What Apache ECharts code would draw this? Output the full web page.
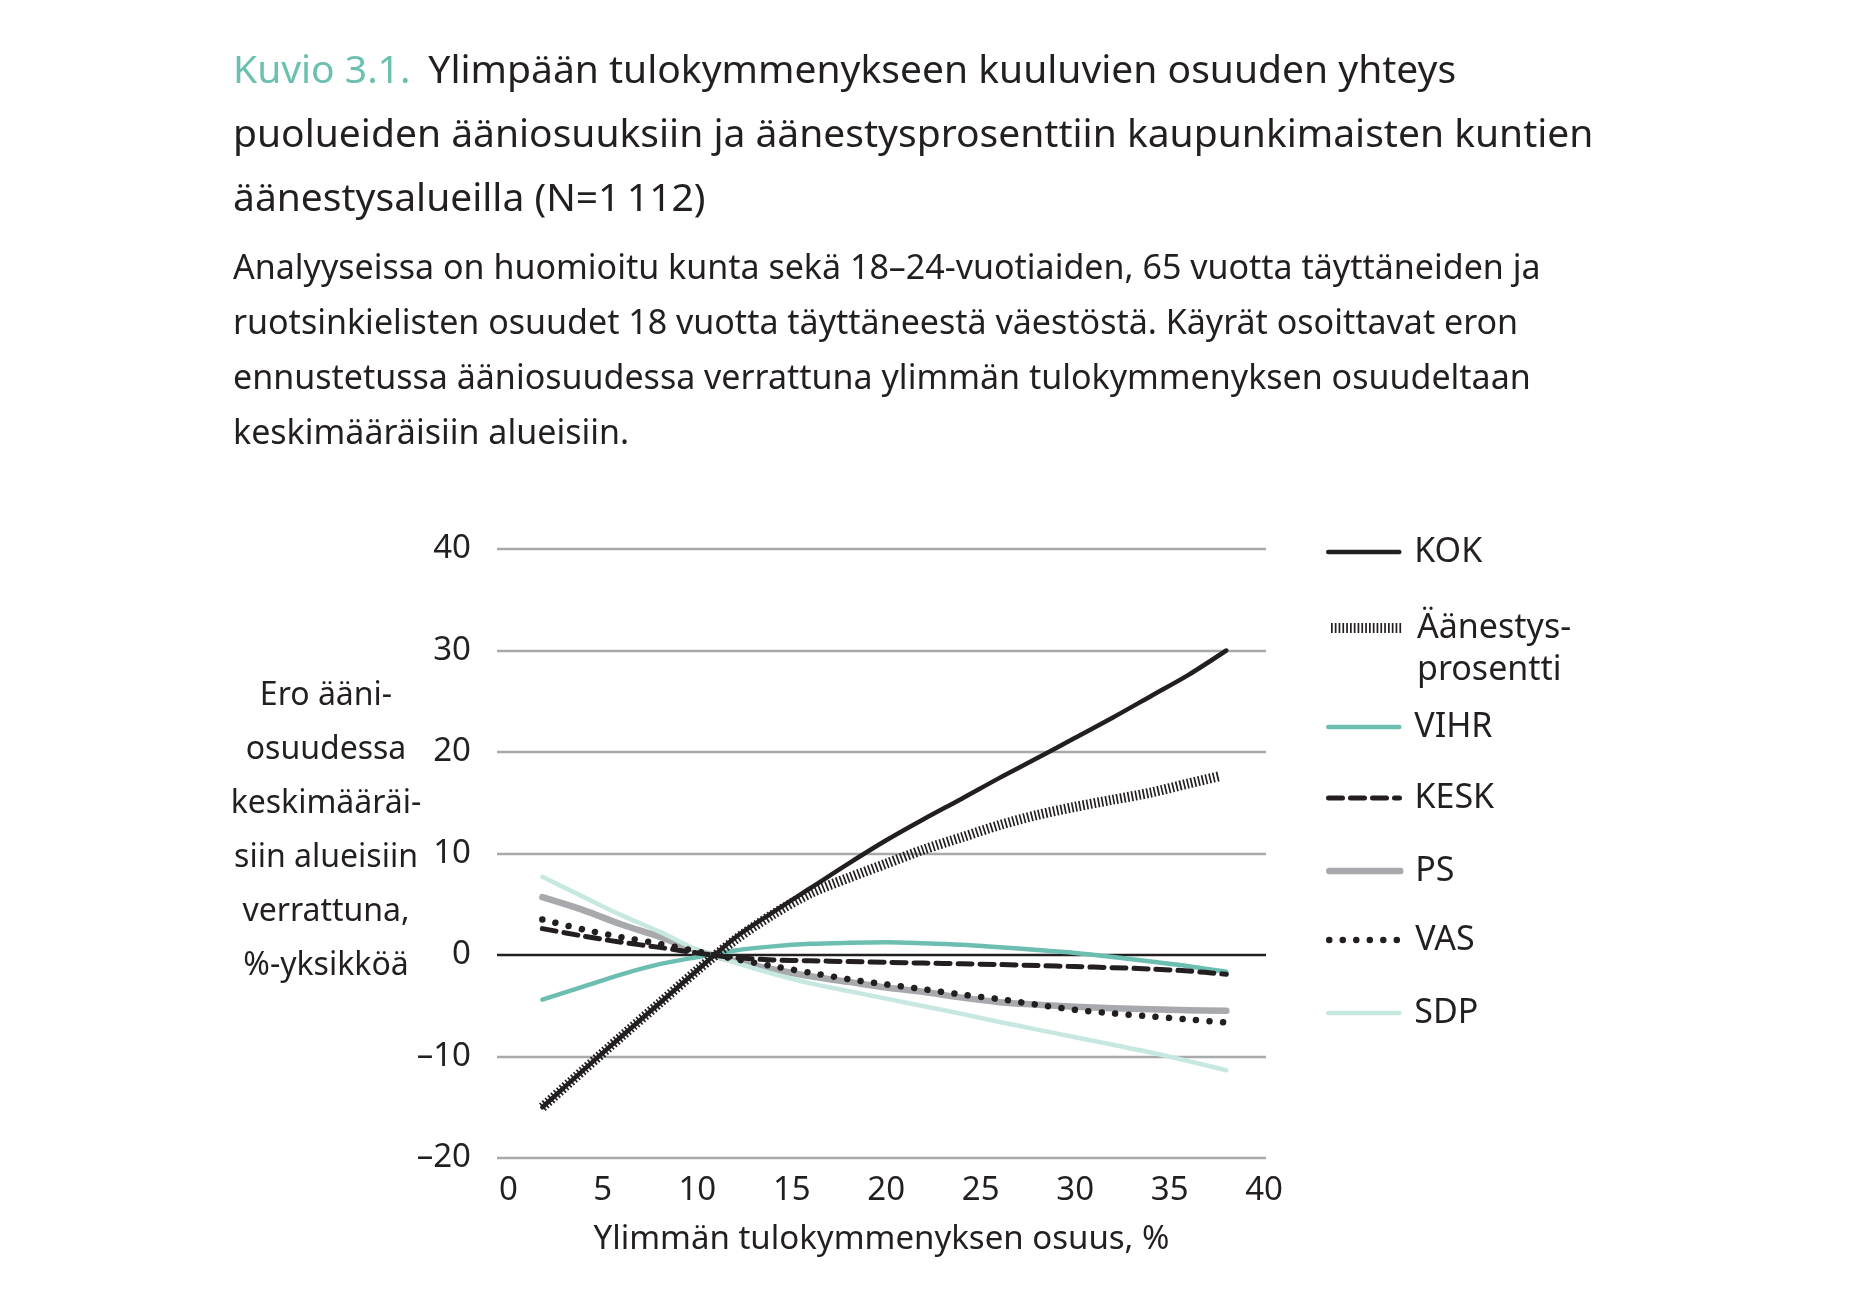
<!DOCTYPE html>
<html>
<head>
<meta charset="utf-8">
<script src="https://cdn.jsdelivr.net/npm/echarts@6/dist/echarts.min.js"></script>
<style>
html,body{margin:0;padding:0;background:#fff;}
#c{width:1856px;height:1310px;}
</style>
</head>
<body>
<div id="c"></div>
<script>
// ---- data ----
const xValues = [1.8, 4, 6, 8, 10, 12, 14, 16, 18, 20, 22, 24, 26, 28, 30, 32, 34, 36, 38];
const turnoutX = [1.8, 4, 6, 8, 10, 12, 14, 16, 18, 20, 22, 24, 26, 28, 30, 32, 34, 36, 37.6];
const KOK     = [-15.0, -11.3, -8.0, -4.75, -1.5, 1.7, 4.2, 6.6, 9.0, 11.3, 13.4, 15.4, 17.45, 19.4, 21.4, 23.4, 25.5, 27.6, 30.0];
const TURNOUT = [-15.0, -11.3, -8.0, -4.75, -1.5, 1.5, 4.0, 6.1, 7.6, 9.0, 10.4, 11.6, 12.8, 13.8, 14.6, 15.3, 16.0, 16.9, 17.6];
const VIHR    = [-4.4, -3.1, -1.9, -0.9, -0.2, 0.45, 0.85, 1.1, 1.2, 1.25, 1.15, 1.0, 0.76, 0.5, 0.2, -0.2, -0.65, -1.1, -1.65];
const KESK    = [2.6, 1.85, 1.25, 0.75, 0.2, -0.25, -0.49, -0.57, -0.65, -0.72, -0.8, -0.87, -0.94, -1.04, -1.14, -1.25, -1.38, -1.58, -1.9];
const PS      = [5.7, 4.4, 3.0, 1.8, 0.4, -0.6, -1.4, -2.1, -2.65, -3.2, -3.65, -4.2, -4.65, -4.9, -5.1, -5.25, -5.35, -5.45, -5.5];
const VAS     = [3.5, 2.5, 1.75, 1.1, 0.35, -0.4, -1.1, -1.75, -2.38, -2.9, -3.38, -3.9, -4.35, -4.9, -5.4, -5.75, -6.05, -6.35, -6.65];
const SDP     = [7.7, 5.7, 3.9, 2.3, 0.5, -0.75, -1.85, -2.8, -3.55, -4.3, -5.05, -5.8, -6.6, -7.35, -8.1, -8.85, -9.6, -10.45, -11.35];

const xTicks = [0, 5, 10, 15, 20, 25, 30, 35, 40];
const yTicks = [-20, -10, 0, 10, 20, 30, 40];
const legendOrder = ['KOK', 'Äänestysprosentti', 'VIHR', 'KESK', 'PS', 'VAS', 'SDP'];

const titleLines = [
  'Ylimpään tulokymmenykseen kuuluvien osuuden yhteys',
  'puolueiden ääniosuuksiin ja äänestysprosenttiin kaupunkimaisten kuntien',
  'äänestysalueilla (N=1\u202f112)'
];
const bodyLines = [
  'Analyyseissa on huomioitu kunta sekä 18–24-vuotiaiden, 65 vuotta täyttäneiden ja',
  'ruotsinkielisten osuudet 18 vuotta täyttäneestä väestöstä. Käyrät osoittavat eron',
  'ennustetussa ääniosuudessa verrattuna ylimmän tulokymmenyksen osuudeltaan',
  'keskimääräisiin alueisiin.'
];
const yNameLines = ['Ero ääni-', 'osuudessa', 'keskimääräi-', 'siin alueisiin', 'verrattuna,', '%-yksikköä'];
const xName = 'Ylimmän tulokymmenyksen osuus, %';

// ---- helpers ----
const FONT = 'Noto Sans';
const TXT = '#231f20';
const pairs = (xs, ys) => xs.map((x, i) => [x, ys[i]]);

function lineSeries(name, xs, ys, lineStyle, z) {
  return {
    name, type: 'line', data: pairs(xs, ys), smooth: 0.3,
    symbol: 'none', showSymbol: false, silent: true, z: z,
    lineStyle: Object.assign({cap: 'butt', join: 'round'}, lineStyle),
    itemStyle: {color: lineStyle.color}
  };
}

const series = [
  lineSeries('PS', xValues, PS, {color: '#a7a9ac', width: 6.5, cap: 'round'}, 2),
  lineSeries('SDP', xValues, SDP, {color: '#c6e8e0', width: 4.5, cap: 'round'}, 3),
  lineSeries('VIHR', xValues, VIHR, {color: '#6cbfb0', width: 4.5, cap: 'round'}, 4),
  lineSeries('KESK', xValues, KESK, {color: TXT, width: 5, type: [14, 8], cap: 'round'}, 5),
  lineSeries('VAS', xValues, VAS, {color: TXT, width: 6.5, type: [0.01, 13.5], cap: 'round'}, 6),
  lineSeries('Äänestysprosentti', turnoutX, TURNOUT, {color: TXT, width: 10, type: [1.7, 2.1], cap: 'butt'}, 7),
  lineSeries('KOK', xValues, KOK, {color: TXT, width: 4.5, cap: 'round'}, 8)
];

const legendCenters = [552, 628, 727, 798, 871, 940, 1013];
const legends = legendOrder.map((n, i) => {
  const multi = n === 'Äänestysprosentti';
  return {
    data: [n], left: 1326,
    top: multi ? legendCenters[i] - 63 : legendCenters[i] - 20,
    orient: 'vertical', padding: 0, selectedMode: false,
    itemWidth: 71, itemHeight: 14,
    lineStyle: {width: 'inherit'},
    itemStyle: {color: 'rgba(0,0,0,0)', borderWidth: 0, opacity: 0},
    formatter: multi ? () => ' \nÄänestys-\nprosentti' : '{name}',
    textStyle: {
      fontFamily: FONT, fontSize: 34, color: TXT,
      lineHeight: multi ? 42 : 40,
      padding: [0, 0, 0, 10]
    }
  };
});

const gridColors = yTicks.map(v => v === 0 ? TXT : '#a7a9ac');

const option = {
  backgroundColor: '#ffffff',
  animation: false,
  title: [
    {
      left: 233, top: 40, padding: 0,
      text: titleLines.map((l, i) => i === 0 ? '{a|Kuvio 3.1.}{b|' + l + '}' : '{b|' + l + '}').join('\n'),
      textStyle: {
        fontWeight: 'normal',
        rich: {
          a: {fontFamily: FONT, fontSize: 39, fontWeight: 'normal', color: '#6cc0b0', lineHeight: 64, padding: [0, 18, 0, 0]},
          b: {fontFamily: FONT, fontSize: 39, fontWeight: 'normal', color: TXT, lineHeight: 64}
        }
      }
    },
    {
      left: 233, top: 242, padding: 0,
      text: bodyLines.join('\n'),
      textStyle: {fontFamily: FONT, fontSize: 34, fontWeight: 'normal', color: TXT, lineHeight: 55}
    }
  ],
  legend: legends,
  grid: {left: 497, right: 590, top: 549, bottom: 152, containLabel: false},
  xAxis: {
    type: 'value', min: -0.6, max: 40.1,
    axisLine: {show: false}, axisTick: {show: false}, splitLine: {show: false},
    axisLabel: {
      customValues: xTicks, fontFamily: FONT, fontSize: 33, color: TXT, margin: 16,
      showMinLabel: true, showMaxLabel: true
    },
    name: xName, nameLocation: 'middle', nameGap: 65, nameMoveOverlap: false,
    nameTextStyle: {fontFamily: FONT, fontSize: 33, color: TXT}
  },
  yAxis: {
    type: 'value', min: -20, max: 40, interval: 10,
    axisLine: {show: false}, axisTick: {show: false},
    splitLine: {show: true, showMinLine: true, showMaxLine: true, lineStyle: {color: gridColors, width: 2.4}},
    axisLabel: {
      fontFamily: FONT, fontSize: 33, color: TXT, margin: 26,
      formatter: v => v < 0 ? '–' + Math.abs(v) : String(v)
    },
    name: yNameLines.map(l => '{a|' + l + '}').join('\n') + '\n{e| }',
    nameLocation: 'middle', nameGap: 171, nameRotate: 0, nameMoveOverlap: false,
    nameTextStyle: {
      fontFamily: FONT, fontSize: 32, color: TXT,
      align: 'center', verticalAlign: 'middle',
      rich: {
        a: {fontFamily: FONT, fontSize: 32, color: TXT, lineHeight: 54, align: 'center'},
        e: {fontFamily: FONT, fontSize: 10, lineHeight: 46}
      }
    }
  },
  series: series
};

const chart = echarts.init(document.getElementById('c'), null, {renderer: 'canvas'});
chart.setOption(option);
</script>
</body>
</html>
